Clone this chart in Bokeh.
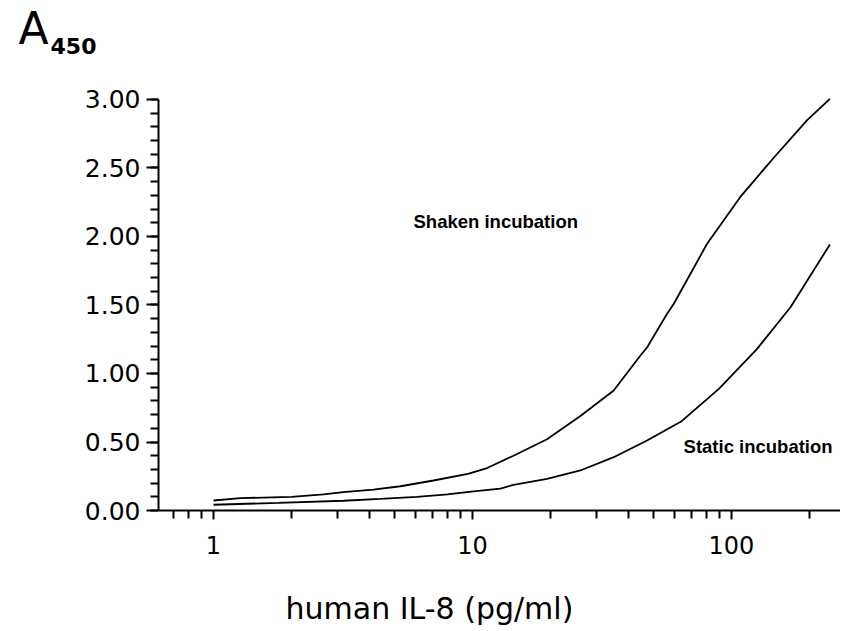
from bokeh.plotting import figure
from bokeh.models import Range1d, FixedTicker, Label
from bokeh.embed import file_html
from bokeh.resources import INLINE

# Data
shaken_x = [1, 1.27, 2.0, 2.66, 3.17, 4.14, 5.27, 7.07, 9.6, 11.4, 14.4, 19.4, 26.1, 35.1,
            44.5, 47.2, 56.4, 59.9, 80.5, 108, 145.6, 196, 240]
shaken_y = [0.073, 0.09, 0.10, 0.117, 0.134, 0.153, 0.177, 0.219, 0.268, 0.31, 0.40, 0.52,
            0.69, 0.876, 1.131, 1.19, 1.436, 1.509, 1.947, 2.287, 2.575, 2.85, 3.005]

static_x = [1, 1.78, 3.17, 4.4, 6.1, 8.0, 10.1, 12.8, 14.4, 19.4, 26.1, 35.1, 47.2, 64.2,
            89.4, 125.6, 169, 240]
static_y = [0.042, 0.056, 0.071, 0.085, 0.10, 0.117, 0.139, 0.16, 0.187, 0.231, 0.292,
            0.389, 0.511, 0.652, 0.888, 1.18, 1.484, 1.942]

x_major = [1, 10, 100]
x_minor = [0.7, 0.8, 0.9, 2, 3, 4, 5, 6, 7, 8, 9, 20, 30, 40, 50, 60, 70, 80, 90, 200]
y_major = [0, 0.5, 1.0, 1.5, 2.0, 2.5, 3.0]
y_minor = [i / 10 for i in range(31)]
y_tick_labels = {0: "0.00", 0.5: "0.50", 1.0: "1.00", 1.5: "1.50", 2.0: "2.00", 2.5: "2.50", 3.0: "3.00"}
x_tick_labels = {1: "1", 10: "10", 100: "100"}

x_axis_start, x_axis_end = 0.613, 263.6
y_axis_start, y_axis_end = 0.0, 3.0

x_title = "human IL-8 (pg/ml)"
y_title_main = "A"
y_title_sub = "450"
label_shaken = "Shaken incubation"
label_static = "Static incubation"

font = "DejaVu Sans"

# The frame covers the whole canvas; axes are drawn at fixed data locations
p = figure(width=840, height=630, x_axis_type="log",
           x_range=Range1d(0.1505, x_axis_end), y_range=Range1d(-0.8759, 3.7226),
           output_backend="svg", toolbar_location=None, title_location=None,
           min_border_left=0, min_border_right=0, min_border_top=0, min_border_bottom=0)
p.outline_line_color = None
p.xgrid.visible = False
p.ygrid.visible = False
p.background_fill_color = "white"
p.border_fill_color = "white"

p.line(shaken_x, shaken_y, line_color="black", line_width=1.8)
p.line(static_x, static_y, line_color="black", line_width=1.8)

xa = p.xaxis[0]
xa.fixed_location = y_axis_start
xa.bounds = (x_axis_start, x_axis_end)
xa.ticker = FixedTicker(ticks=x_major, minor_ticks=x_minor)
xa.major_label_overrides = x_tick_labels
xa.axis_line_width = 2
xa.major_tick_line_width = 2
xa.minor_tick_line_width = 2
xa.major_tick_out = 9
xa.major_tick_in = 0
xa.minor_tick_out = 8
xa.minor_tick_in = 0
xa.major_label_standoff = 16
xa.major_label_text_font = font
xa.major_label_text_font_size = "24px"
xa.major_label_text_color = "black"

ya = p.yaxis[0]
ya.fixed_location = x_axis_start
ya.bounds = (y_axis_start, y_axis_end)
ya.ticker = FixedTicker(ticks=y_major, minor_ticks=y_minor)
ya.major_label_overrides = y_tick_labels
ya.axis_line_width = 2
ya.major_tick_line_width = 2
ya.minor_tick_line_width = 2
ya.major_tick_out = 12
ya.major_tick_in = 0
ya.minor_tick_out = 8
ya.minor_tick_in = 0
ya.major_label_standoff = 6
ya.major_label_text_font = font
ya.major_label_text_font_size = "25px"
ya.major_label_text_color = "black"

p.add_layout(Label(x=5.92, y=2.109, text=label_shaken, text_font="Liberation Sans",
                   text_font_style="bold", text_font_size="18.5px", text_baseline="middle",
                   text_color="black"))
p.add_layout(Label(x=65.3, y=0.467, text=label_static, text_font="Liberation Sans",
                   text_font_style="bold", text_font_size="18.5px", text_baseline="middle",
                   text_color="black"))

# Axis titles
p.add_layout(Label(x=6.82, y=-0.715, text=x_title, text_font=font, text_font_size="30px",
                   text_align="center", text_baseline="middle", text_color="black"))
p.add_layout(Label(x=0.1767, y=3.52, text=y_title_main, text_font=font, text_font_size="44px",
                   text_baseline="middle", text_color="black"))
p.add_layout(Label(x=0.2348, y=3.394, text=y_title_sub, text_font=font, text_font_style="bold",
                   text_font_size="22px", text_baseline="middle", text_color="black"))

open("out.html", "w").write(file_html(p, INLINE))
